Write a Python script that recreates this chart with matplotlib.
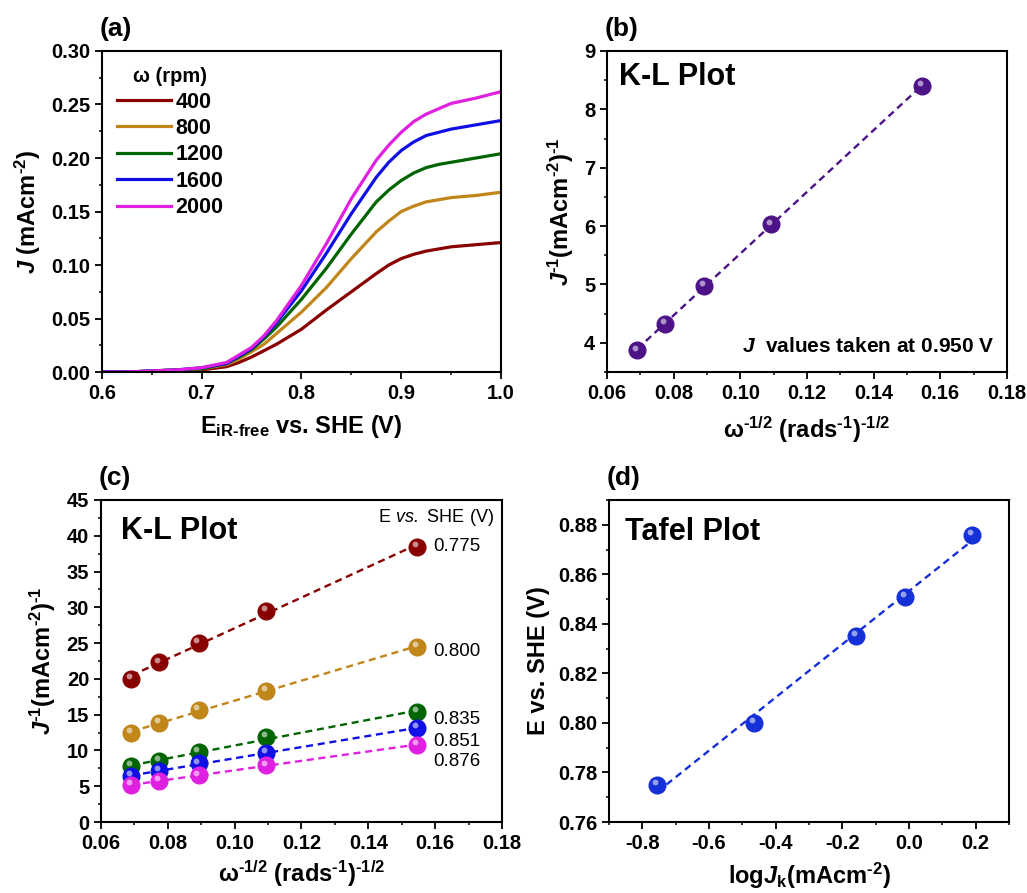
import numpy as np
import matplotlib
matplotlib.use('Agg')
import matplotlib.pyplot as plt
from matplotlib.ticker import MultipleLocator
from matplotlib.transforms import offset_copy

plt.rcParams['font.family'] = 'Liberation Sans'
plt.rcParams['font.weight'] = 'bold'
plt.rcParams['axes.labelweight'] = 'bold'
plt.rcParams['mathtext.fontset'] = 'custom'
plt.rcParams['mathtext.rm'] = 'Liberation Sans:bold'
plt.rcParams['mathtext.bf'] = 'Liberation Sans:bold'
plt.rcParams['mathtext.it'] = 'Liberation Sans:bold:italic'
plt.rcParams['mathtext.sf'] = 'Liberation Sans:normal'
plt.rcParams['mathtext.cal'] = 'Liberation Sans:italic:normal'
plt.rcParams['axes.unicode_minus'] = False

# (a) LSV curves
potential = [0.600, 0.625, 0.650, 0.675, 0.700, 0.725, 0.7375, 0.750, 0.7625,
             0.775, 0.800, 0.825, 0.850, 0.875, 0.8875, 0.900, 0.9125, 0.925,
             0.9375, 0.950, 0.975, 1.000]
rpm_labels = ['400', '800', '1200', '1600', '2000']
j_400 = [0, 0, 0.0005, 0.001, 0.002, 0.005, 0.009, 0.014, 0.020, 0.026, 0.040,
         0.058, 0.075, 0.092, 0.100, 0.106, 0.110, 0.113, 0.115, 0.117, 0.119,
         0.121]
j_800 = [0, 0, 0.001, 0.002, 0.003, 0.007, 0.012, 0.019, 0.026, 0.036, 0.056,
         0.079, 0.106, 0.131, 0.141, 0.150, 0.155, 0.159, 0.161, 0.163, 0.165,
         0.168]
j_1200 = [0, 0, 0.001, 0.002, 0.003, 0.008, 0.014, 0.021, 0.031, 0.042, 0.068,
          0.097, 0.129, 0.159, 0.170, 0.179, 0.186, 0.191, 0.194, 0.196, 0.200,
          0.204]
j_1600 = [0, 0, 0.001, 0.002, 0.004, 0.008, 0.015, 0.022, 0.033, 0.046, 0.076,
          0.111, 0.148, 0.182, 0.196, 0.207, 0.215, 0.221, 0.224, 0.227, 0.231,
          0.235]
j_2000 = [0, 0, 0.001, 0.002, 0.004, 0.009, 0.016, 0.023, 0.034, 0.048, 0.081,
          0.120, 0.162, 0.198, 0.212, 0.224, 0.234, 0.241, 0.246, 0.251, 0.256,
          0.262]

# (b) K-L at 0.950 V
omega_inv = [0.0691, 0.0773, 0.0892, 0.1093, 0.1545]
kl_950 = [3.87, 4.33, 4.98, 6.03, 8.40]

# (c) K-L at several potentials
kl_labels = ['0.775', '0.800', '0.835', '0.851', '0.876']
kl_775 = [20.0, 22.3, 25.0, 29.5, 38.5]
kl_800 = [12.4, 13.8, 15.7, 18.3, 24.5]
kl_835 = [7.8, 8.5, 9.8, 11.9, 15.4]
kl_851 = [6.4, 7.1, 8.2, 9.7, 13.1]
kl_876 = [5.2, 5.7, 6.5, 7.9, 10.8]

# (d) Tafel
log_jk = [-0.755, -0.466, -0.160, -0.013, 0.190]
e_tafel = [0.775, 0.800, 0.835, 0.851, 0.876]

colors = ['#880000', '#c0861a', '#006400', '#1010e6', '#e020e0']
purple = '#4e1288'
tafel_blue = '#1530d8'

fig = plt.figure(figsize=(10.27, 8.93), dpi=100)
ax_a = fig.add_axes([0.0993, 0.5834, 0.3885, 0.3595])
ax_b = fig.add_axes([0.5910, 0.5834, 0.3895, 0.3595])
ax_c = fig.add_axes([0.0983, 0.0795, 0.3905, 0.3606])
ax_d = fig.add_axes([0.5930, 0.0795, 0.3895, 0.3606])

m1 = r'$^{\text{-1}}$'
m2 = r'$^{\text{-2}}$'
mh = r'$^{\text{-1/2}}$'


def style(ax):
    for s in ax.spines.values():
        s.set_linewidth(1.5)
    ax.tick_params(which='major', direction='out', length=5, width=1.3,
                   labelsize=14.5, top=False, right=False)
    ax.tick_params(which='minor', direction='out', length=2.5, width=1.1,
                   top=False, right=False)


def balls(ax, x, y, c, ms=12):
    ax.plot(x, y, 'o', color=c, ms=ms, mec=c, zorder=3)
    hl = offset_copy(ax.transData, fig=fig, x=-1.5, y=2.0, units='points')
    ax.plot(x, y, 'o', color='white', alpha=0.55, ms=ms * 0.35, mew=0,
            transform=hl, zorder=4)


def fit_line(ax, x, y, c):
    k, b = np.polyfit(x, y, 1)
    xx = np.array([min(x), max(x)])
    ax.plot(xx, k * xx + b, color=c, lw=1.7, ls=(0, (3, 2)), zorder=2)


# panel (a)
for j, lab, c in zip([j_400, j_800, j_1200, j_1600, j_2000], rpm_labels, colors):
    ax_a.plot(potential, j, color=c, lw=2.3, label=lab)
ax_a.set_xlim(0.6, 1.0)
ax_a.set_ylim(0, 0.30)
ax_a.xaxis.set_major_locator(MultipleLocator(0.1))
ax_a.xaxis.set_minor_locator(MultipleLocator(0.05))
ax_a.yaxis.set_major_locator(MultipleLocator(0.05))
ax_a.yaxis.set_minor_locator(MultipleLocator(0.025))
ax_a.xaxis.set_major_formatter(plt.FormatStrFormatter('%.1f'))
ax_a.yaxis.set_major_formatter(plt.FormatStrFormatter('%.2f'))
ax_a.set_xlabel(r'E$_{\text{iR-free}}$ vs. SHE (V)', fontsize=17, labelpad=7)
ax_a.set_ylabel(r'$J$ (mAcm' + m2 + ')', fontsize=17, labelpad=6)
leg = ax_a.legend(title='ω (rpm)', loc='upper left', frameon=False,
                  fontsize=15.5, title_fontsize=14.5, handlelength=2.5,
                  handletextpad=0.2, labelspacing=0.25,
                  bbox_to_anchor=(-0.01, 1.01))
leg.get_title().set_fontweight('bold')
style(ax_a)

# panel (b)
fit_line(ax_b, omega_inv, kl_950, purple)
balls(ax_b, omega_inv, kl_950, purple)
ax_b.set_xlim(0.06, 0.18)
ax_b.set_ylim(3.5, 9)
ax_b.xaxis.set_major_locator(MultipleLocator(0.02))
ax_b.xaxis.set_minor_locator(MultipleLocator(0.01))
ax_b.yaxis.set_major_locator(MultipleLocator(1))
ax_b.yaxis.set_minor_locator(MultipleLocator(0.5))
ax_b.xaxis.set_major_formatter(plt.FormatStrFormatter('%.2f'))
ax_b.set_xlabel('ω' + mh + ' (rads' + m1 + ')' + mh, fontsize=17, labelpad=8)
ax_b.set_ylabel(r'$J$' + m1 + '(mAcm' + m2 + ')' + m1, fontsize=17, labelpad=6)
ax_b.text(0.03, 0.92, 'K-L Plot', transform=ax_b.transAxes, fontsize=22,
          va='center', ha='left')
ax_b.text(0.97, 0.08, r'$J$  values taken at 0.950 V', transform=ax_b.transAxes,
          fontsize=15, va='center', ha='right')
style(ax_b)

# panel (c)
tag_y = [38.5, 23.8, 14.3, 11.3, 8.5]
for ys, lab, c, ty in zip([kl_775, kl_800, kl_835, kl_851, kl_876], kl_labels,
                          colors, tag_y):
    fit_line(ax_c, omega_inv, ys, c)
    balls(ax_c, omega_inv, ys, c)
    ax_c.text(0.1595, ty, lab, fontsize=13.5, fontweight='normal',
              va='center', ha='left')
ax_c.set_xlim(0.06, 0.18)
ax_c.set_ylim(0, 45)
ax_c.xaxis.set_major_locator(MultipleLocator(0.02))
ax_c.xaxis.set_minor_locator(MultipleLocator(0.01))
ax_c.yaxis.set_major_locator(MultipleLocator(5))
ax_c.yaxis.set_minor_locator(MultipleLocator(2.5))
ax_c.xaxis.set_major_formatter(plt.FormatStrFormatter('%.2f'))
ax_c.set_xlabel('ω' + mh + ' (rads' + m1 + ')' + mh, fontsize=17, labelpad=4)
ax_c.set_ylabel(r'$J$' + m1 + '(mAcm' + m2 + ')' + m1, fontsize=17, labelpad=6)
ax_c.text(0.05, 0.905, 'K-L Plot', transform=ax_c.transAxes, fontsize=22,
          va='center', ha='left')
ax_c.text(0.98, 0.945, r'$\mathsf{E\ }\mathcal{vs.}\mathsf{\ SHE\ (V)}$',
          transform=ax_c.transAxes, fontsize=13, va='center', ha='right')
style(ax_c)

# panel (d)
fit_line(ax_d, log_jk, e_tafel, tafel_blue)
balls(ax_d, log_jk, e_tafel, tafel_blue)
ax_d.set_xlim(-0.9, 0.3)
ax_d.set_ylim(0.76, 0.89)
ax_d.xaxis.set_major_locator(MultipleLocator(0.2))
ax_d.xaxis.set_minor_locator(MultipleLocator(0.1))
ax_d.yaxis.set_major_locator(MultipleLocator(0.02))
ax_d.yaxis.set_minor_locator(MultipleLocator(0.01))
ax_d.xaxis.set_major_formatter(plt.FormatStrFormatter('%.1f'))
ax_d.yaxis.set_major_formatter(plt.FormatStrFormatter('%.2f'))
ax_d.set_xlabel(r'log$J_{\mathrm{k}}$(mAcm' + m2 + ')', fontsize=17, labelpad=6)
ax_d.set_ylabel('E vs. SHE (V)', fontsize=17, labelpad=6)
ax_d.text(0.04, 0.9, 'Tafel Plot', transform=ax_d.transAxes, fontsize=22,
          va='center', ha='left')
style(ax_d)

for ax, lab in zip([ax_a, ax_b, ax_c, ax_d], ['(a)', '(b)', '(c)', '(d)']):
    ax.text(-0.005, 1.03, lab, transform=ax.transAxes, fontsize=19,
            va='bottom', ha='left')

fig.savefig('out.png', dpi=100)
